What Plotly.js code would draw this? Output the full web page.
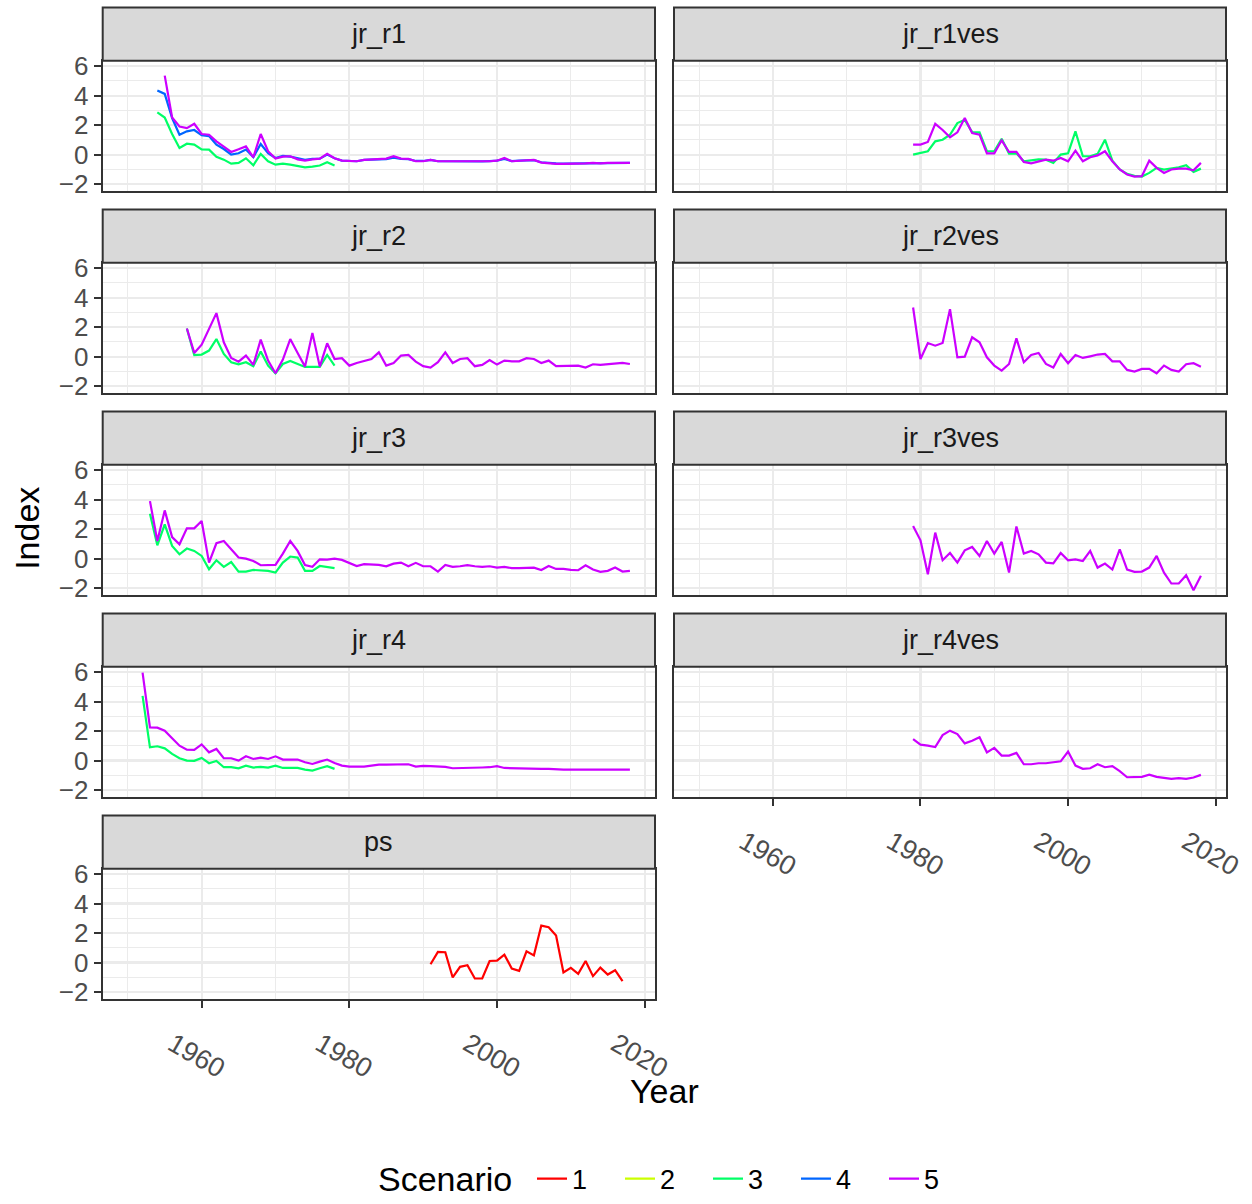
<!DOCTYPE html>
<html>
<head>
<meta charset="utf-8">
<script src="https://cdn.plot.ly/plotly-3.0.1.min.js"></script>
<style>html,body{margin:0;padding:0;background:#fff}#chart{width:1252px;height:1204px}</style>
</head>
<body>
<div id="chart"></div>
<script>
// ---- data (annual index values) ----
const panelNames = ["jr_r1","jr_r1ves","jr_r2","jr_r2ves","jr_r3","jr_r3ves","jr_r4","jr_r4ves","ps"];
const scenarioNames = ["1","2","3","4","5"];
const scenarioColors = ["#FF0000","#CCFF00","#00FF66","#0066FF","#CC00FF"];
const xTickVals = [1960,1980,2000,2020];
const yTickVals = [-2,0,2,4,6];

function years(a,b){const o=[];for(let y=a;y<=b;y++)o.push(y);return o;}

// jr_r1
const jr_r1_s3 = [2.86,2.52,1.4,0.45,0.74,0.68,0.36,0.34,-0.14,-0.34,-0.61,-0.56,-0.25,-0.72,0.05,-0.45,-0.68,-0.61,-0.68,-0.79,-0.86,-0.81,-0.74,-0.52,-0.74]; // 1954-1978
const jr_r1_s4 = [4.35,4.12,2.48,1.35,1.58,1.67,1.31,1.26,0.68,0.38,0.0,0.09,0.34,-0.18,0.72,0.09,-0.23,-0.09,-0.14,-0.27,-0.36,-0.29,-0.27,0.0,-0.25,
  -0.41,-0.45,-0.45,-0.36,-0.34,-0.32,-0.3,-0.2,-0.29,-0.31,-0.43,-0.43,-0.36,-0.45,-0.45,-0.48,-0.5,-0.5,-0.49,-0.46,-0.44,-0.41,-0.3,-0.44,-0.41,-0.41,-0.37,-0.52,-0.57,-0.6,-0.61,-0.61,-0.58,-0.57,-0.56,-0.57,-0.56,-0.56,-0.59,-0.56]; // 1954-2018
const jr_r1_s5 = [5.36,2.52,1.91,1.8,2.09,1.4,1.35,0.9,0.54,0.18,0.36,0.56,-0.18,1.4,0.23,-0.27,-0.14,-0.11,-0.32,-0.41,-0.32,-0.27,0.05,-0.25,
  -0.41,-0.45,-0.45,-0.36,-0.34,-0.34,-0.27,-0.11,-0.27,-0.29,-0.45,-0.45,-0.36,-0.45,-0.45,-0.5,-0.5,-0.5,-0.5,-0.47,-0.45,-0.41,-0.23,-0.45,-0.41,-0.41,-0.36,-0.54,-0.59,-0.63,-0.63,-0.63,-0.59,-0.59,-0.56,-0.59,-0.56,-0.56,-0.61,-0.56]; // 1955-2018

// jr_r1ves
const jr_r1ves_s3 = [0.0,0.11,0.23,0.9,1.01,1.35,2.14,2.36,1.53,1.51,0.23,0.23,1.08,0.07,0.09,-0.45,-0.41,-0.32,-0.34,-0.56,0.0,0.09,1.58,-0.11,-0.11,0.05,1.01,-0.41,-1.01,-1.31,-1.44,-1.49,-1.24,-0.9,-1.01,-0.95,-0.86,-0.72,-1.17,-0.95]; // 1979-2018
const jr_r1ves_s5 = [0.68,0.68,0.86,2.09,1.67,1.17,1.51,2.48,1.46,1.35,0.09,0.09,0.97,0.18,0.18,-0.5,-0.59,-0.45,-0.34,-0.41,-0.23,-0.45,0.27,-0.45,-0.18,-0.05,0.23,-0.45,-1.01,-1.35,-1.49,-1.46,-0.41,-0.9,-1.24,-1.01,-0.95,-0.95,-1.06,-0.56]; // 1979-2018

// jr_r2
const jr_r2_s3 = [1.91,0.11,0.14,0.41,1.19,0.18,-0.38,-0.52,-0.38,-0.65,0.34,-0.61,-1.13,-0.5,-0.29,-0.52,-0.7,-0.7,-0.7,0.11,-0.61]; // 1958-1978
const jr_r2_s5 = [1.91,0.25,0.81,1.87,2.95,0.97,-0.09,-0.34,0.07,-0.56,1.15,-0.27,-1.13,-0.2,1.19,0.25,-0.68,1.6,-0.68,0.9,-0.16,
  -0.11,-0.61,-0.43,-0.27,-0.16,0.29,-0.61,-0.43,0.07,0.11,-0.34,-0.65,-0.74,-0.38,0.29,-0.43,-0.16,-0.11,-0.65,-0.56,-0.23,-0.54,-0.27,-0.32,-0.32,-0.11,-0.16,-0.43,-0.27,-0.65,-0.65,-0.61,-0.61,-0.74,-0.52,-0.56,-0.52,-0.43,-0.43,-0.5]; // 1958-2018

// jr_r2ves
const jr_r2ves_s5 = [3.33,-0.16,0.92,0.74,0.92,3.22,-0.05,0.0,1.31,0.97,-0.05,-0.61,-0.95,-0.5,1.24,-0.38,0.11,0.25,-0.5,-0.74,0.18,-0.45,0.11,-0.09,0.02,0.14,0.18,-0.32,-0.32,-0.9,-1.01,-0.83,-0.83,-1.13,-0.61,-0.9,-1.01,-0.52,-0.45,-0.68]; // 1979-2018

// jr_r3
const jr_r3_s3 = [3.04,0.9,2.32,0.86,0.29,0.68,0.52,0.18,-0.72,-0.11,-0.56,-0.23,-0.88,-0.88,-0.77,-0.79,-0.83,-0.95,-0.27,0.14,0.07,-0.83,-0.83,-0.5,-0.56,-0.65]; // 1953-1978
const jr_r3_s5 = [3.9,1.19,3.27,1.46,0.97,2.05,2.05,2.55,-0.27,1.04,1.19,0.63,0.07,0.0,-0.16,-0.45,-0.43,-0.43,0.34,1.19,0.52,-0.43,-0.56,-0.05,-0.07,0.0,
  -0.09,-0.27,-0.5,-0.38,-0.38,-0.43,-0.52,-0.34,-0.27,-0.52,-0.29,-0.52,-0.52,-0.88,-0.43,-0.56,-0.52,-0.45,-0.52,-0.56,-0.52,-0.61,-0.56,-0.65,-0.65,-0.65,-0.61,-0.77,-0.5,-0.7,-0.7,-0.77,-0.79,-0.45,-0.74,-0.9,-0.83,-0.61,-0.88,-0.83]; // 1953-2018

// jr_r3ves
const jr_r3ves_s5 = [2.21,1.24,-1.06,1.76,-0.11,0.38,-0.27,0.56,0.79,0.18,1.19,0.34,1.13,-0.95,2.18,0.34,0.52,0.29,-0.27,-0.32,0.38,-0.11,-0.05,-0.16,0.52,-0.61,-0.34,-0.74,0.63,-0.74,-0.9,-0.88,-0.61,0.18,-0.95,-1.69,-1.69,-1.13,-2.14,-1.17]; // 1979-2018

// jr_r4
const jr_r4_s3 = [4.39,0.9,0.97,0.83,0.45,0.16,0.0,-0.02,0.18,-0.18,-0.02,-0.45,-0.45,-0.52,-0.34,-0.47,-0.43,-0.47,-0.34,-0.5,-0.5,-0.5,-0.61,-0.68,-0.52,-0.38,-0.56]; // 1952-1978
const jr_r4_s5 = [5.97,2.25,2.23,2.03,1.51,1.01,0.74,0.72,1.1,0.56,0.79,0.16,0.16,0.0,0.29,0.11,0.2,0.11,0.29,0.07,0.07,0.07,-0.11,-0.23,-0.07,0.07,-0.16,
  -0.34,-0.41,-0.41,-0.41,-0.34,-0.27,-0.27,-0.27,-0.29,-0.25,-0.41,-0.36,-0.38,-0.41,-0.43,-0.52,-0.52,-0.52,-0.5,-0.47,-0.45,-0.38,-0.5,-0.52,-0.54,-0.54,-0.54,-0.56,-0.56,-0.61,-0.61,-0.61,-0.61,-0.61,-0.63,-0.63,-0.63,-0.63,-0.61,-0.61]; // 1952-2018

// jr_r4ves
const jr_r4ves_s5 = [1.46,1.08,1.01,0.92,1.73,2.03,1.8,1.17,1.35,1.58,0.56,0.86,0.34,0.34,0.52,-0.25,-0.25,-0.18,-0.18,-0.11,-0.05,0.61,-0.34,-0.56,-0.52,-0.25,-0.45,-0.38,-0.72,-1.13,-1.1,-1.1,-0.95,-1.1,-1.17,-1.24,-1.19,-1.24,-1.15,-0.97]; // 1979-2018

// ps
const ps_s1 = [-0.11,0.72,0.7,-1.01,-0.29,-0.18,-1.08,-1.08,0.11,0.13,0.54,-0.4,-0.56,0.76,0.49,2.51,2.4,1.84,-0.67,-0.36,-0.76,0.11,-0.92,-0.34,-0.81,-0.52,-1.26]; // 1991-2017

// series: [panelIndex, scenarioIndex(0-based), firstYear, lastYear, values]
const series = [
  [0,2,1954,1978,jr_r1_s3],[0,3,1954,2018,jr_r1_s4],[0,4,1955,2018,jr_r1_s5],
  [1,2,1979,2018,jr_r1ves_s3],[1,4,1979,2018,jr_r1ves_s5],
  [2,2,1958,1978,jr_r2_s3],[2,4,1958,2018,jr_r2_s5],
  [3,4,1979,2018,jr_r2ves_s5],
  [4,2,1953,1978,jr_r3_s3],[4,4,1953,2018,jr_r3_s5],
  [5,4,1979,2018,jr_r3ves_s5],
  [6,2,1952,1978,jr_r4_s3],[6,4,1952,2018,jr_r4_s5],
  [7,4,1979,2018,jr_r4ves_s5],
  [8,0,1991,2017,ps_s1]
];

// ---- layout geometry (px) ----
const W=1252,H=1204;
const colX=[[102.7,655],[674,1226]];
const rowStep=203, stripTop=7.5, panelTop=61, panelBot=192;
const font="Liberation Sans, Arial, sans-serif";

const traces=[];
const seen={};
series.forEach(s=>{
  const [p,sc,a,b,vals]=s;
  const n=p+1;
  traces.push({
    type:"scatter",mode:"lines",
    x:years(a,b),y:vals,
    xaxis:"x"+(n===1?"":n),yaxis:"y"+(n===1?"":n),
    line:{color:scenarioColors[sc],width:2.2},
    name:scenarioNames[sc],legendgroup:scenarioNames[sc],legendrank:sc+1,
    showlegend:!seen[sc],hoverinfo:"skip"
  });
  seen[sc]=true;
});
// legend entry for scenarios with no visible line
scenarioNames.forEach((nm,i)=>{
  if(!seen[i]) traces.push({type:"scatter",mode:"lines",x:[null],y:[null],
    line:{color:scenarioColors[i],width:2.2},name:nm,legendgroup:nm,legendrank:i+1,showlegend:true,hoverinfo:"skip"});
});

const layout={
  width:W,height:H,margin:{l:0,r:0,t:0,b:0},
  paper_bgcolor:"#FFFFFF",plot_bgcolor:"#FFFFFF",
  font:{family:font,color:"#000000"},
  showlegend:true,
  legend:{orientation:"h",x:532/W,xanchor:"left",y:1-1185/H,yanchor:"middle",
    font:{size:27,color:"#000000"},itemwidth:30,entrywidth:43,traceorder:"normal",
    bgcolor:"rgba(0,0,0,0)",borderwidth:0},
  shapes:[],annotations:[]
};

panelNames.forEach((name,i)=>{
  const r=Math.floor(i/2), c=i%2, n=i+1;
  const top=panelTop+rowStep*r, bot=panelBot+rowStep*r;
  const xd=[colX[c][0]/W,colX[c][1]/W];
  const isBottom=(i===8||i===7);
  layout["xaxis"+(n===1?"":n)]={
    domain:xd,anchor:"y"+(n===1?"":n),range:[1946.6,2021.4],
    tickmode:"array",tickvals:xTickVals,ticktext:xTickVals.map(String),
    showticklabels:isBottom,ticks:isBottom?"outside":"",ticklen:7,tickwidth:2,tickcolor:"#333333",
    tickangle:30,tickfont:{size:27,color:"#4D4D4D",family:font},
    ticklabelshift:-29,ticklabelstandoff:10,
    showgrid:true,gridcolor:"#EBEBEB",gridwidth:2.2,
    minor:{tickvals:[1950,1970,1990,2010],showgrid:true,gridcolor:"#EBEBEB",gridwidth:1.1,ticks:""},
    zeroline:false,showline:true,mirror:true,linecolor:"#333333",linewidth:2
  };
  layout["yaxis"+(n===1?"":n)]={
    domain:[1-bot/H,1-top/H],anchor:"x"+(n===1?"":n),range:[-2.47,6.37],
    tickmode:"array",tickvals:yTickVals,ticktext:yTickVals.map(v=>v<0?"\u2212"+Math.abs(v):String(v)),
    showticklabels:c===0,ticks:c===0?"outside":"",ticklen:7,tickwidth:2,tickcolor:"#333333",
    tickfont:{size:26,color:"#4D4D4D",family:font},
    showgrid:true,gridcolor:"#EBEBEB",gridwidth:2.2,
    minor:{tickvals:[-1,1,3,5],showgrid:true,gridcolor:"#EBEBEB",gridwidth:1.1,ticks:""},
    zeroline:false,showline:true,mirror:true,linecolor:"#333333",linewidth:2
  };
  const sTop=stripTop+rowStep*r, sBot=panelTop+rowStep*r;
  layout.shapes.push({type:"rect",xref:"paper",yref:"paper",x0:xd[0],x1:xd[1],y0:1-sBot/H,y1:1-sTop/H,
    fillcolor:"#D9D9D9",line:{color:"#333333",width:2},layer:"above"});
  layout.annotations.push({xref:"paper",yref:"paper",x:(xd[0]+xd[1])/2,y:1-(sTop+sBot)/2/H,
    text:name,showarrow:false,xanchor:"center",yanchor:"middle",font:{size:27,color:"#1A1A1A",family:font}});
});

layout.annotations.push({xref:"paper",yref:"paper",x:664/W,y:1-1096/H,text:"Year",showarrow:false,
  xanchor:"center",yanchor:"middle",font:{size:34,color:"#000000",family:font}});
layout.annotations.push({xref:"paper",yref:"paper",x:27/W,y:1-531.5/H,text:"Index",showarrow:false,textangle:-90,
  xanchor:"center",yanchor:"middle",font:{size:34,color:"#000000",family:font}});
layout.annotations.push({xref:"paper",yref:"paper",x:445.5/W,y:1-1185/H,text:"Scenario",showarrow:false,
  xanchor:"center",yanchor:"middle",font:{size:34,color:"#000000",family:font}});

Plotly.newPlot("chart",traces,layout,{displayModeBar:false,staticPlot:true});
</script>
</body>
</html>
